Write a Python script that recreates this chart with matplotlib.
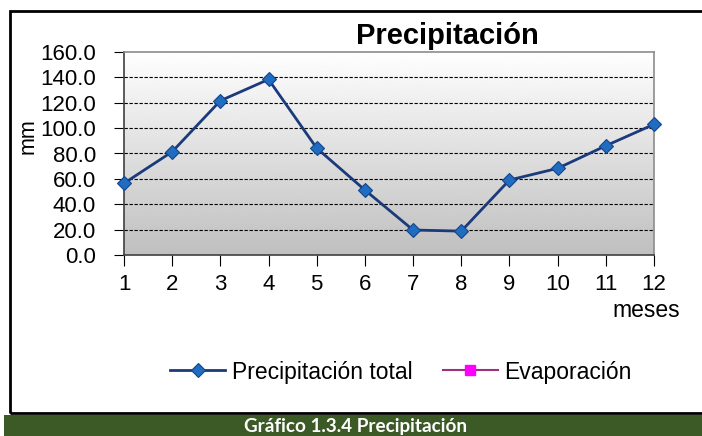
import numpy as np
import matplotlib
matplotlib.use("Agg")
from matplotlib import pyplot as plt
from matplotlib.patches import Rectangle

plt.rcParams['font.family'] = ['Liberation Sans', 'DejaVu Sans']

# data
meses = [1, 2, 3, 4, 5, 6, 7, 8, 9, 10, 11, 12]
precipitacion = [56.5, 81.4, 121.6, 138.4, 84.2, 51.2, 19.7, 18.8, 59.1, 68.3, 86.1, 103.0]
evaporacion = []
y_ticks = [0, 20, 40, 60, 80, 100, 120, 140, 160]

W, H = 702, 436
fig = plt.figure(figsize=(W / 100, H / 100), dpi=100)

# outer frame and green caption bar
fig.add_artist(Rectangle((10 / W, (H - 413) / H), 720 / W, 402 / H,
                         transform=fig.transFigure, fill=False,
                         edgecolor='black', linewidth=2))
fig.add_artist(Rectangle((4 / W, 0), 700 / W, 21 / H,
                         transform=fig.transFigure, facecolor='#3b5a26',
                         edgecolor='none'))
fig.text(356 / W, 10 / H, 'Gráfico 1.3.4 Precipitación', color='white',
         family=['Lato', 'DejaVu Sans'], fontweight='bold',
         fontsize=13.6, ha='center', va='center')

ax = fig.add_axes([124 / W, (H - 255) / H, 530 / W, 203 / H])

# gradient background, white at top, gray at bottom
grad = np.linspace(0, 1, 256).reshape(-1, 1)
ax.imshow(grad, extent=[1, 12, 0, 160], aspect='auto', cmap='gray',
          vmin=-3.0, vmax=1.0, zorder=0, origin='lower')

for v in y_ticks[1:-1]:
    ax.axhline(v, color='black', linestyle=(0, (3, 1.5)), linewidth=0.8, zorder=1)

ax.plot(meses, precipitacion, color='#1b3a7a', linewidth=2,
        marker='D', markersize=7, markerfacecolor='#1f6cc0',
        markeredgecolor='#15468a', markeredgewidth=0.8,
        label='Precipitación total', zorder=3, clip_on=False)
ax.plot(evaporacion, evaporacion, color='#a0307a', linewidth=1.5,
        marker='s', markersize=7, markerfacecolor='#ff00ff',
        markeredgecolor='#ff00ff', label='Evaporación')

ax.set_xlim(1, 12)
ax.set_ylim(0, 160)
ax.set_xticks(meses)
ax.set_yticks(y_ticks)
ax.set_yticklabels([F"{v:.1f}" for v in y_ticks])
ax.tick_params(axis='both', labelsize=16, direction='out', color='black')
ax.tick_params(axis='x', length=8, pad=6)
ax.tick_params(axis='y', length=7, pad=13)
for side in ['top', 'right']:
    ax.spines[side].set_color('#8c8c8c')
    ax.spines[side].set_linewidth(1.2)
for side in ['left', 'bottom']:
    ax.spines[side].set_color('#404040')
    ax.spines[side].set_linewidth(1.2)

ax.set_ylabel('mm', fontsize=15.5, labelpad=0)
ax.yaxis.set_label_coords(-85 / 530, 0.586)
ax.set_title('Precipitación', fontsize=21, fontweight='bold', x=0.61, pad=6)
fig.text(680 / W, (H - 310) / H, 'meses', fontsize=16.5, ha='right', va='center')

fig.legend(loc='center', bbox_to_anchor=(401 / W, (H - 372) / H), ncol=2,
           frameon=False, fontsize=16.5, handlelength=2.4, columnspacing=1.3,
           handletextpad=0.3)

fig.savefig('out.png', dpi=100)
plt.close()
